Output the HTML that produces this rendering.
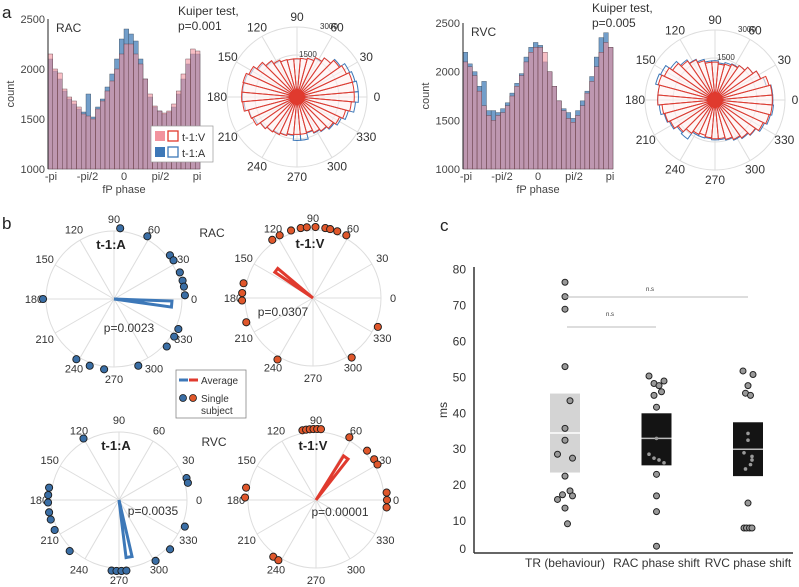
<!DOCTYPE html>
<html><head><meta charset="utf-8"><style>
body{margin:0;background:#fff}
svg{display:block;font-family:"Liberation Sans",sans-serif}
</style></head><body>
<svg id="fig" width="799" height="587" viewBox="0 0 799 587"></svg>
<script>
// ---------- DATA ----------
const histRacV=[2150,2000,1960,1800,1720,1680,1620,1550,1530,1500,1600,1680,1780,1880,2000,2150,2250,2250,2150,2050,1900,1750,1630,1580,1560,1580,1650,1780,1950,2100,2200,2180];
const histRacA=[2100,1980,1900,1780,1700,1650,1600,1570,1750,1520,1620,1700,1820,1950,2100,2300,2400,2350,2280,2100,1900,1720,1620,1580,1550,1570,1620,1750,1900,2050,2150,2150];
const histRvcV=[2100,2050,1960,1800,1650,1550,1500,1550,1580,1650,1750,1850,1960,2100,2200,2250,2250,2200,2000,1850,1700,1600,1520,1480,1550,1650,1780,1900,2050,2200,2300,2250];
const histRvcA=[2200,2080,2000,1850,1900,1600,1600,1580,1620,1680,1780,1880,1980,2150,2250,2300,2270,2100,2000,1850,1700,1620,1580,1520,1600,1700,1800,1950,2150,2350,2400,2250];
const histTicks=[1000,1500,2000,2500];
const phaseTicks=["-pi","-pi/2","0","pi/2","pi"];
const polarAngles=[0,30,60,90,120,150,180,210,240,270,300,330];
const racAdots=[85,62,38,33,22,15,10,3,180,335,328,318,290,262,250,238];
const racAavg=-5, racAlen=58;
const racVdots=[125,118,108,100,95,88,80,76,70,62,168,176,182,200,240,303,336];
const racVavg=143, racVlen=46;
const rvcAdots=[120,170,176,182,190,196,205,226,264,268,272,276,301,316,338,18,14];
const rvcAavg=-80, rvcAlen=58;
const rvcVdots=[101,98,95,92,89,86,62,44,35,30,6,0,-6,170,178,233,238];
const rvcVavg=55, rvcVlen=52;
const catNames=["TR (behaviour)","RAC phase shift","RVC phase shift"];
const yTicks=[0,10,20,30,40,50,60,70,80];
const boxLow=[23.5,25.5,22.5], boxHigh=[45.5,40,37.5], boxMed=[34.5,33,30];
const ptsTR=[76.5,72.5,69,53,43.5,35.8,32.5,28.6,27.5,22.5,18.4,17.3,17,16,13.6,9];
const ptsRAC=[50.4,49,48.3,47.7,46,45,41.7,33,28.6,27.5,27,26.2,23,17,12.6,1];
const ptsRVC=[51.8,50.8,47.7,45.6,45,34.4,32.5,29,28,27,25.7,24.5,15,7.5,7.5,7.5,7.5];
const jitTR=[0,0,0,0,.1,0,0,-.15,.15,0,.1,-.05,.15,-.15,0,.05];
const jitRAC=[-.15,.15,-.05,.05,.1,-.05,0,0,-.15,-.05,.05,.15,0,0,0,0];
const jitRVC=[-.1,.1,0,-.05,.05,0,0,-.08,.08,.08,.05,-.05,0,-.08,-.03,.03,.08];
const smallRAC=[0,0,0,0,0,0,0,1,1,1,1,1,0,0,0,0];
const smallRVC=[0,0,0,0,0,1,1,1,1,1,1,1,0,0,0,0,0];

const svg=document.getElementById('fig');const NS='http://www.w3.org/2000/svg';
function mk(tag,attrs,parent){const e=document.createElementNS(NS,tag);for(const k in attrs)e.setAttribute(k,attrs[k]);(parent||svg).appendChild(e);return e;}
function txt(x,y,s,size,attrs,parent){const t=mk('text',Object.assign({x:x,y:y,'font-size':size,fill:'#333'},attrs||{}),parent);t.textContent=s;return t;}
const rad=d=>d*Math.PI/180;

function hist(x0,x1,y0,y1,red,blue,title,name){
  const g=mk('g',{});
  
  
  const ys=v=>y1-(v-1000)/1500*(y1-y0);
  const n=red.length,bw=(x1-x0)/n;
  blue.forEach((v,i)=>{const r=mk('rect',{x:x0+i*bw,y:ys(v),width:bw,height:y1-ys(v),fill:'#4f86bd','fill-opacity':.8,stroke:'#3a4a5a','stroke-width':.4},g);
    });
  red.forEach((v,i)=>{const r=mk('rect',{x:x0+i*bw,y:ys(v),width:bw,height:y1-ys(v),fill:'#f2939e','fill-opacity':.6,stroke:'#5a3a44','stroke-width':.4},g);
    });
  mk('line',{x1:x0,y1:y0,x2:x0,y2:y1,stroke:'#222','stroke-width':1},g);
  histTicks.forEach(t=>{const e=txt(x0-3,ys(t)+4,String(t),11,{'text-anchor':'end',fill:'#444'},g);
    });
  phaseTicks.forEach((s,i)=>{const e=txt(x0+3+i*(x1-x0-6)/4,y1+11,s,11,{'text-anchor':'middle',fill:'#444'},g);
    });
  const xl=txt((x0+x1)/2,y1+24,'fP phase',11,{'text-anchor':'middle',fill:'#444'},g);
  
  const yl=txt(0,0,'count',11,{'text-anchor':'middle',fill:'#444',transform:`translate(${x0-34},${(y0+y1)/2}) rotate(-90)`},g);
  
  const tt=txt(x0+8,y0+13,title,12,{},g);
  
}
hist(48,200,19,169,histRacV,histRacA,'RAC','hist-rac');
hist(463,613,23,169,histRvcV,histRvcA,'RVC','hist-rvc');

(function(){const g=mk('g',{});
 mk('rect',{x:151,y:126,width:62,height:36,fill:'#fff',stroke:'#999','stroke-width':.7},g);
 mk('rect',{x:155,y:131,width:10,height:10,fill:'#f2939e'},g);
 mk('rect',{x:168,y:131,width:10,height:10,fill:'none',stroke:'#e03a2e','stroke-width':1.3},g);
 txt(182,141,'t-1:V',11,{},g);
 mk('rect',{x:155,y:147,width:10,height:10,fill:'#3d78b8'},g);
 mk('rect',{x:168,y:147,width:10,height:10,fill:'none',stroke:'#3d78b8','stroke-width':1.3},g);
 txt(182,157,'t-1:A',11,{},g);})();

function grid(cx,cy,R,g,rings,lblR,fs){
  rings.forEach(r=>mk('circle',{cx:cx,cy:cy,r:r,fill:'none',stroke:'#ddd','stroke-width':1},g));
  polarAngles.forEach(a=>{mk('line',{x1:cx,y1:cy,x2:cx+R*Math.cos(rad(a)),y2:cy-R*Math.sin(rad(a)),stroke:'#ddd','stroke-width':1},g);
    const e=txt(cx+lblR*Math.cos(rad(a)),cy-lblR*Math.sin(rad(a))+4,String(a),fs,{'text-anchor':'middle',fill:'#333'},g);
    });
}
function rose(cx,cy,red,blue,name){
  const g=mk('g',{});
  grid(cx,cy,70,g,[42,70],80,12);
  const rs=v=>-5+v*0.0277;
  const val=(arr,deg)=>{let ph=deg>180?deg-360:deg;let i=Math.floor((ph+180)/360*arr.length);i=Math.min(arr.length-1,Math.max(0,i));return arr[i];};
  [[blue,'#3d78b8','none'],[red,'#e03a2e','rgba(255,240,240,0.6)']].forEach(([arr,col,fill])=>{
    for(let k=0;k<36;k++){const a0=k*10-5,a1=k*10+5,r=rs(val(arr,k*10));
      const p=mk('path',{d:`M${cx},${cy}L${cx+r*Math.cos(rad(a0))},${cy-r*Math.sin(rad(a0))}A${r},${r} 0 0 0 ${cx+r*Math.cos(rad(a1))},${cy-r*Math.sin(rad(a1))}Z`,fill:fill,stroke:col,'stroke-width':1},g);
      }
  });
  mk('circle',{cx:cx,cy:cy,r:8,fill:'#e03a2e'},g);
  txt(cx+23,cy-68,'3000',8,{},g);txt(cx+2,cy-40,'1500',8,{},g);
}
rose(297,97,histRacV,histRacA,'rose-rac');
rose(715,100,histRvcV,histRvcA,'rose-rvc');
[[178,15,'Kuiper test,'],[178,30,'p=0.001'],[592,12,'Kuiper test,'],[592,27,'p=0.005']].forEach(([x,y,s])=>{const e=txt(x,y,s,12,{});});
[[2,18,'a'],[2,229,'b'],[440,231,'c']].forEach(([x,y,s])=>{const e=txt(x,y,s,17,{fill:'#222'});});

function phasePlot(cx,cy,dots,avg,len,col,dotCol,title,pv,px,py,name){
  const g=mk('g',{});
  grid(cx,cy,68,g,[68],80,11);
  const a0=avg+3,a1=avg-3;
  const w=mk('path',{d:`M${cx},${cy}L${cx+len*Math.cos(rad(a0))},${cy-len*Math.sin(rad(a0))}L${cx+len*Math.cos(rad(a1))},${cy-len*Math.sin(rad(a1))}Z`,fill:'none',stroke:col,'stroke-width':3,'stroke-linejoin':'miter'},g);
  
  dots.forEach(d=>{const c=mk('circle',{cx:cx+71*Math.cos(rad(d)),cy:cy-71*Math.sin(rad(d)),r:3.6,fill:dotCol,stroke:'#1a1a1a','stroke-width':.9},g);
    });
  const t=txt(cx-3,cy-50,title,13,{'text-anchor':'middle','font-weight':'bold',fill:'#222'},g);
  
  const p=txt(px,py,pv,12,{'text-anchor':'middle'},g);
  
}
phasePlot(114,299,racAdots,racAavg,racAlen,'#3d78b8','#3a6ea5','t-1:A','p=0.0023',129,332,'phase-rac-a');
phasePlot(313,298,racVdots,racVavg,racVlen,'#e03a2e','#e0572b','t-1:V','p=0.0307',283,316,'phase-rac-v');
phasePlot(119,500,rvcAdots,rvcAavg,rvcAlen,'#3d78b8','#3a6ea5','t-1:A','p=0.0035',153,515,'phase-rvc-a');
phasePlot(316,500,rvcVdots,rvcVavg,rvcVlen,'#e03a2e','#e0572b','t-1:V','p=0.00001',340,516,'phase-rvc-v');
[[212,237,'RAC'],[214,446,'RVC']].forEach(([x,y,s])=>{const e=txt(x,y,s,12,{'text-anchor':'middle'});});
(function(){const g=mk('g',{});
 mk('rect',{x:176,y:370,width:70,height:48,fill:'#fff',stroke:'#888','stroke-width':.8},g);
 mk('line',{x1:179,y1:380,x2:188,y2:380,stroke:'#3d78b8','stroke-width':3},g);
 mk('line',{x1:189,y1:380,x2:198,y2:380,stroke:'#e03a2e','stroke-width':3},g);
 txt(201,384,'Average',10,{},g);
 mk('circle',{cx:183,cy:398,r:3.5,fill:'#3a6ea5',stroke:'#1a1a1a','stroke-width':.8},g);
 mk('circle',{cx:193,cy:398,r:3.5,fill:'#e0572b',stroke:'#1a1a1a','stroke-width':.8},g);
 txt(201,402,'Single',10,{},g);txt(201,414,'subject',10,{},g);})();

const yS=v=>v<=10?549-v*2.8:521-(v-10)*3.59;
const xS=i=>565+i*91.5;
(function(){const g=mk('g',{});
 mk('line',{x1:474,y1:267,x2:474,y2:553,stroke:'#333','stroke-width':1.5},g);
 mk('line',{x1:474,y1:553,x2:793,y2:553,stroke:'#333','stroke-width':1.5},g);
 yTicks.forEach(t=>{const e=txt(466,yS(t)+4,String(t),12,{'text-anchor':'end'},g);});
 const yl=txt(0,0,'ms',12,{'text-anchor':'middle',transform:'translate(447,410) rotate(-90)'},g);
 
 catNames.forEach((s,i)=>{const e=txt(xS(i),567,s,12,{'text-anchor':'middle'},g);});
 boxLow.forEach((lo,i)=>{const b=mk('rect',{x:xS(i)-15,y:yS(boxHigh[i]),width:30,height:yS(lo)-yS(boxHigh[i]),fill:i==0?'#d4d4d4':'#141414'},g);
   
   const m=mk('line',{x1:xS(i)-15,x2:xS(i)+15,y1:yS(boxMed[i]),y2:yS(boxMed[i]),stroke:i==0?'#fff':'#bbb','stroke-width':1.5},g);
   });
 [[ptsTR,jitTR,null],[ptsRAC,jitRAC,smallRAC],[ptsRVC,jitRVC,smallRVC]].forEach(([pts,jit,sm],i)=>{
   pts.forEach((v,k)=>{const small=sm&&sm[k];
     const c=mk('circle',{cx:xS(i)+jit[k]*50,cy:yS(v),r:small?1.8:3,fill:'#999',stroke:small?'none':'#222','stroke-width':1},g);
     });});
 mk('line',{x1:567,x2:748,y1:297,y2:297,stroke:'#bbb','stroke-width':1},g);
 mk('line',{x1:567,x2:656,y1:327,y2:327,stroke:'#bbb','stroke-width':1},g);
 txt(650,291,'n.s',6,{'text-anchor':'middle'},g);txt(610,316,'n.s',6,{'text-anchor':'middle'},g);
})();
</script>
</body></html>
